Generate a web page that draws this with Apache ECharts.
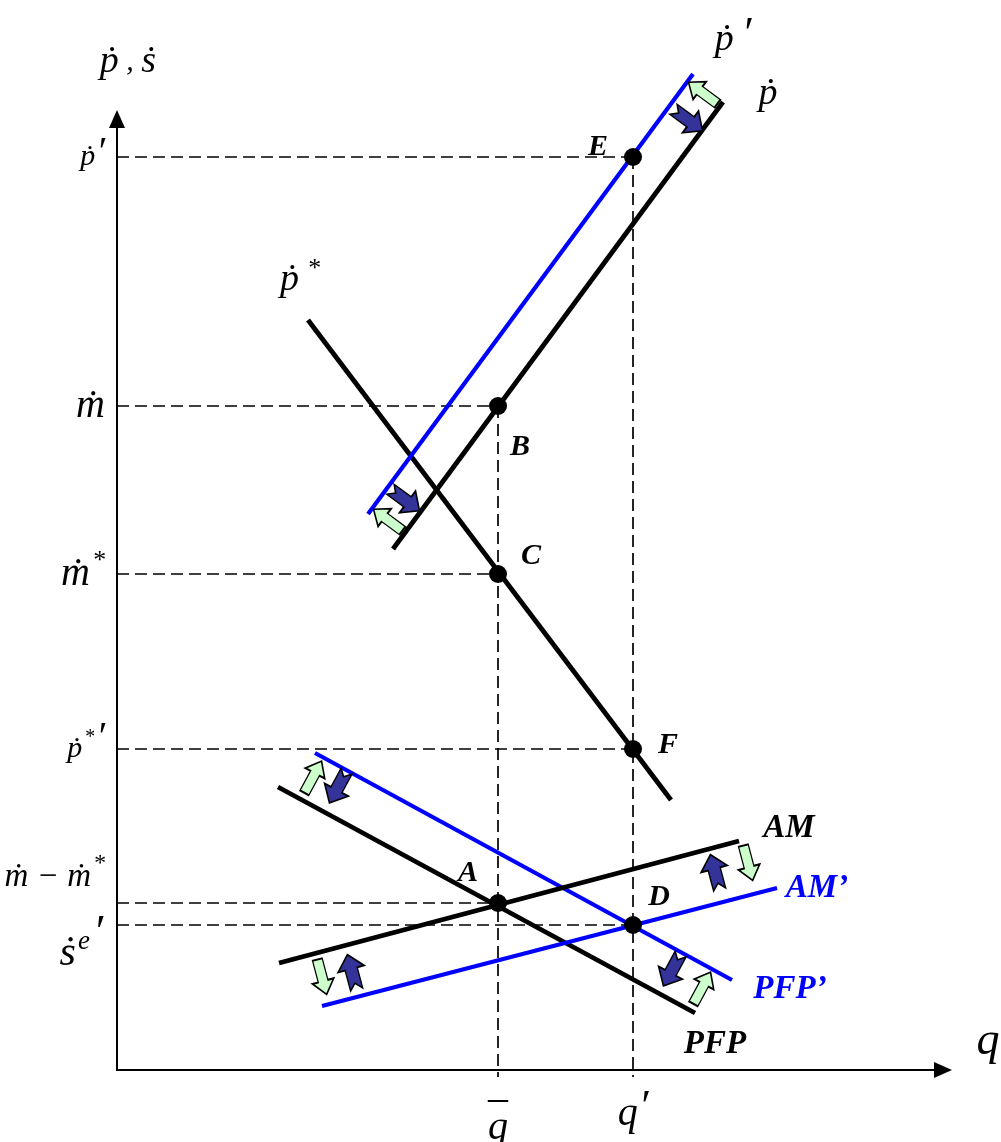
<!DOCTYPE html>
<html>
<head>
<meta charset="utf-8">
<script src="https://cdn.jsdelivr.net/npm/echarts@6/dist/echarts.min.js"></script>
<style>
  html, body { margin: 0; padding: 0; background: #fff; }
  #chart { width: 1001px; height: 1142px; }
</style>
</head>
<body>
<div id="chart"></div>
<script>
// Schedule end points, [q, rate]
const lineP      = [[2.76, 5.21], [6.06, 9.68]];   // ṗ
const linePPrime = [[2.51, 5.56], [5.76, 9.96]];   // ṗ′
const lineStar   = [[1.91, 7.50], [5.54, 2.70]];   // ṗ*
const linePFP    = [[1.61, 2.83], [5.78, 0.57]];   // PFP
const linePFPPr  = [[1.98, 3.17], [6.15, 0.90]];   // PFP′
const lineAM     = [[1.62, 1.07], [6.22, 2.29]];   // AM
const lineAMPr   = [[2.05, 0.64], [6.60, 1.82]];   // AM′

// Equilibrium points
const pointNames = ['E', 'B', 'C', 'F', 'A', 'D'];
const pointQ     = [5.16, 3.81, 3.81, 5.16, 3.81, 5.16];
const pointRate  = [9.13, 6.64, 4.96, 3.21, 1.67, 1.45];

// Axis ticks
const qTicks = [3.81, 5.16];
const qTickLabels = ['{bar|–}\n{q|q}', '{q|q}{pr|′}'];
const rateTicks = [9.13, 6.64, 4.96, 3.21, 1.67];
const rateTickLabels = [
  '{p|ṗ}{pr|′}',
  '{m|ṁ}',
  '{m|ṁ}{st|*}',
  '{p|ṗ}{sts|*}{pr2|′}',
  '{mm|ṁ − ṁ}{st2|*}\n{gap| }'
];
// expected depreciation level, labelled just below its guide
const seTick = 1.45;
const seTickLabel = '{s|ṡ}{e|e}{pr3|′}';

// Shift arrows beside the schedules
const arrowQ     = [5.86, 5.71, 2.88, 2.71, 1.96, 2.21, 5.55, 5.85, 5.98, 6.31, 2.05, 2.35];
const arrowRate  = [9.77, 9.50, 5.70, 5.50, 2.93, 2.83, 1.00, 0.82, 1.98, 2.07, 0.93, 0.98];
const arrowKind  = ['light', 'dark', 'dark', 'light', 'light', 'dark', 'dark', 'light', 'dark', 'light', 'light', 'dark'];
const arrowAlong = ['p', 'p', 'p', 'p', 'pfp', 'pfp', 'pfp', 'pfp', 'am', 'am', 'am', 'am'];
const arrowSide  = [1, -1, -1, 1, 1, -1, -1, 1, 1, -1, -1, 1];

const SERIF = '"Liberation Serif", "DejaVu Serif", "Times New Roman", serif';
const BLUE = '#0000ff';

function it(size, extra) {
  return Object.assign({ fontFamily: SERIF, fontStyle: 'italic', fontSize: size, color: '#000' }, extra || {});
}
function bi(size, color) {
  return { fontFamily: SERIF, fontStyle: 'italic', fontWeight: 'bold', fontSize: size, color: color || '#000' };
}

function schedule(pts, color, width) {
  return {
    type: 'line', data: pts, symbol: 'none', clip: false, silent: true, z: 3,
    lineStyle: { color: color, width: width, cap: 'butt' }, animation: false
  };
}

function dashed(pts) {
  return {
    type: 'line', data: pts, symbol: 'none', clip: false, silent: true, z: 2,
    lineStyle: { color: '#000', width: 1.7, type: [12, 6] }, animation: false
  };
}

// Guides from each point to the axes
const guides = [];
for (let i = 0; i < pointNames.length; i++) {
  guides.push(dashed([[0, pointRate[i]], [pointQ[i], pointRate[i]]]));
}
// verticals drop from the highest point on each q level
['B', 'E'].forEach(function (n) {
  const i = pointNames.indexOf(n);
  guides.push(dashed([[pointQ[i], pointRate[i]], [pointQ[i], -0.07]]));
});

// Arrow glyphs (pointing up before rotation)
const LIGHT_PATH = 'path://M11,0 L22,13 L16,13 L16,34 L6,34 L6,13 L0,13 Z';
const DARK_PATH  = 'path://M13,0 L26,14 L19,14 L19,34 L13,28 L7,34 L7,14 L0,14 Z';
const alongLines = { p: lineP, pfp: linePFP, am: lineAM };
function dirDeg(pts) {
  return Math.atan2(pts[1][1] - pts[0][1], pts[1][0] - pts[0][0]) * 180 / Math.PI;
}
const arrowData = arrowQ.map(function (q, i) {
  const phi = dirDeg(alongLines[arrowAlong[i]]);
  const rot = arrowSide[i] > 0 ? phi : phi - 180;
  const light = arrowKind[i] === 'light';
  return {
    value: [q, arrowRate[i]],
    symbol: light ? LIGHT_PATH : DARK_PATH,
    symbolSize: light ? [22, 36] : [27, 36],
    symbolRotate: rot,
    itemStyle: { color: light ? '#ccffcc' : '#333399', borderColor: '#000', borderWidth: 1.6, opacity: 1 }
  };
});

// Text placed relative to a data anchor
function tag(anchor, text, style, off, align) {
  return {
    value: anchor,
    label: Object.assign({ show: true, formatter: text, position: 'inside', offset: off, align: align || 'center', verticalAlign: 'middle', opacity: 1 }, style)
  };
}
const pIdx = function (n) { const i = pointNames.indexOf(n); return [pointQ[i], pointRate[i]]; };

const yRich = {
  p:   it(30, { lineHeight: 52 }),
  pr:  it(40, { lineHeight: 52, padding: [0, 0, 8, 1] }),
  m:   it(40, { lineHeight: 52 }),
  st:  it(26, { lineHeight: 52, padding: [0, 0, 26, 2] }),
  sts: it(20, { lineHeight: 52, padding: [0, 0, 22, 2] }),
  pr2: it(40, { lineHeight: 52, padding: [0, 0, 22, 2] }),
  mm:  it(33, { lineHeight: 52 }),
  st2: it(24, { lineHeight: 52, padding: [0, 0, 26, 2] }),
  s:   it(42, { lineHeight: 52 }),
  e:   it(27, { lineHeight: 52, padding: [0, 0, 24, 2] }),
  pr3: it(46, { lineHeight: 52, padding: [0, 0, 38, 3] }),
  gap: it(10, { lineHeight: 52 })
};
const xRich = {
  bar: it(40, { lineHeight: 14 }),
  q:   it(40, { lineHeight: 44 }),
  pr:  it(44, { lineHeight: 44, padding: [0, 0, 12, 1] })
};

const tags = [
  tag(linePPrime[1], '{a|ṗ}{b|′}', { rich: { a: it(38), b: it(44, { padding: [0, 0, 10, 8] }) } }, [40, -34]),
  tag(lineP[1], '{a|ṗ}', { rich: { a: it(38) } }, [45, -8]),
  tag(lineStar[0], '{a|ṗ}{b|*}', { rich: { a: it(38), b: it(26, { padding: [0, 0, 22, 8] }) } }, [-8, -40]),
  tag(lineAM[1], 'AM', bi(33), [50, -13]),
  tag(lineAMPr[1], 'AM’', bi(33, BLUE), [40, 0]),
  tag(linePFPPr[1], 'PFP’', bi(33, BLUE), [58, 9]),
  tag(linePFP[1], 'PFP', bi(33), [20, 31]),
  tag(pIdx('E'), 'E', bi(30), [-35, -10]),
  tag(pIdx('B'), 'B', bi(30), [22, 41]),
  tag(pIdx('C'), 'C', bi(30), [33, -18]),
  tag(pIdx('F'), 'F', bi(30), [35, -4]),
  tag(pIdx('A'), 'A', bi(30), [-30, -30]),
  tag(pIdx('D'), 'D', bi(30), [26, -28]),
  tag([0, seTick], seTickLabel, { rich: yRich }, [-14, 29], 'right')
];

const option = {
  backgroundColor: '#fff',
  animation: false,
  grid: { left: 117, right: 58, top: 119, bottom: 72, containLabel: false, outerBoundsMode: 'none' },
  xAxis: {
    type: 'value', min: 0, max: 8.26,
    splitLine: { show: false }, axisTick: { show: false },
    axisLine: { show: true, onZero: false, symbol: ['none', 'triangle'], symbolSize: [16, 18], lineStyle: { color: '#000', width: 2 } },
    axisLabel: {
      customValues: qTicks, margin: 22, rich: xRich, hideOverlap: false,
      formatter: function (v) {
        let k = 0; qTicks.forEach(function (t, i) { if (Math.abs(t - v) < Math.abs(qTicks[k] - v)) k = i; });
        return qTickLabels[k];
      }
    },
    name: 'q', nameLocation: 'end', nameGap: 45,
    nameTextStyle: it(46, { align: 'center', verticalAlign: 'bottom', lineHeight: 56 })
  },
  yAxis: {
    type: 'value', min: 0, max: 9.51,
    splitLine: { show: false }, axisTick: { show: false },
    axisLine: { show: true, onZero: false, symbol: ['none', 'triangle'], symbolSize: [16, 18], lineStyle: { color: '#000', width: 2 } },
    axisLabel: {
      customValues: rateTicks, margin: 12, rich: yRich, hideOverlap: false,
      formatter: function (v) {
        let k = 0; rateTicks.forEach(function (t, i) { if (Math.abs(t - v) < Math.abs(rateTicks[k] - v)) k = i; });
        return rateTickLabels[k];
      }
    },
    name: '{a|ṗ}{b| , }{a|ṡ}', nameLocation: 'end', nameGap: 38,
    nameTextStyle: { rich: { a: it(38), b: it(30) }, padding: [0, 0, 0, 22] }
  },
  series: [].concat(
    guides,
    [
      schedule(lineStar, '#000', 4.8),
      schedule(lineP, '#000', 4.8),
      schedule(linePPrime, BLUE, 4.2),
      schedule(linePFP, '#000', 4.8),
      schedule(linePFPPr, BLUE, 4.2),
      schedule(lineAM, '#000', 4.8),
      schedule(lineAMPr, BLUE, 4.2),
      {
        type: 'scatter', silent: true, z: 6,
        data: pointQ.map(function (q, i) { return [q, pointRate[i]]; }),
        symbol: 'circle', symbolSize: 18, itemStyle: { color: '#000', opacity: 1 }
      },
      { type: 'scatter', silent: true, z: 7, clip: false, data: arrowData },
      {
        type: 'scatter', silent: true, z: 8, clip: false,
        symbol: 'circle', symbolSize: 1, itemStyle: { color: 'rgba(0,0,0,0)', opacity: 1 },
        data: tags
      }
    ]
  )
};

const chart = echarts.init(document.getElementById('chart'), null, { renderer: 'canvas' });
chart.setOption(option);
</script>
</body>
</html>
